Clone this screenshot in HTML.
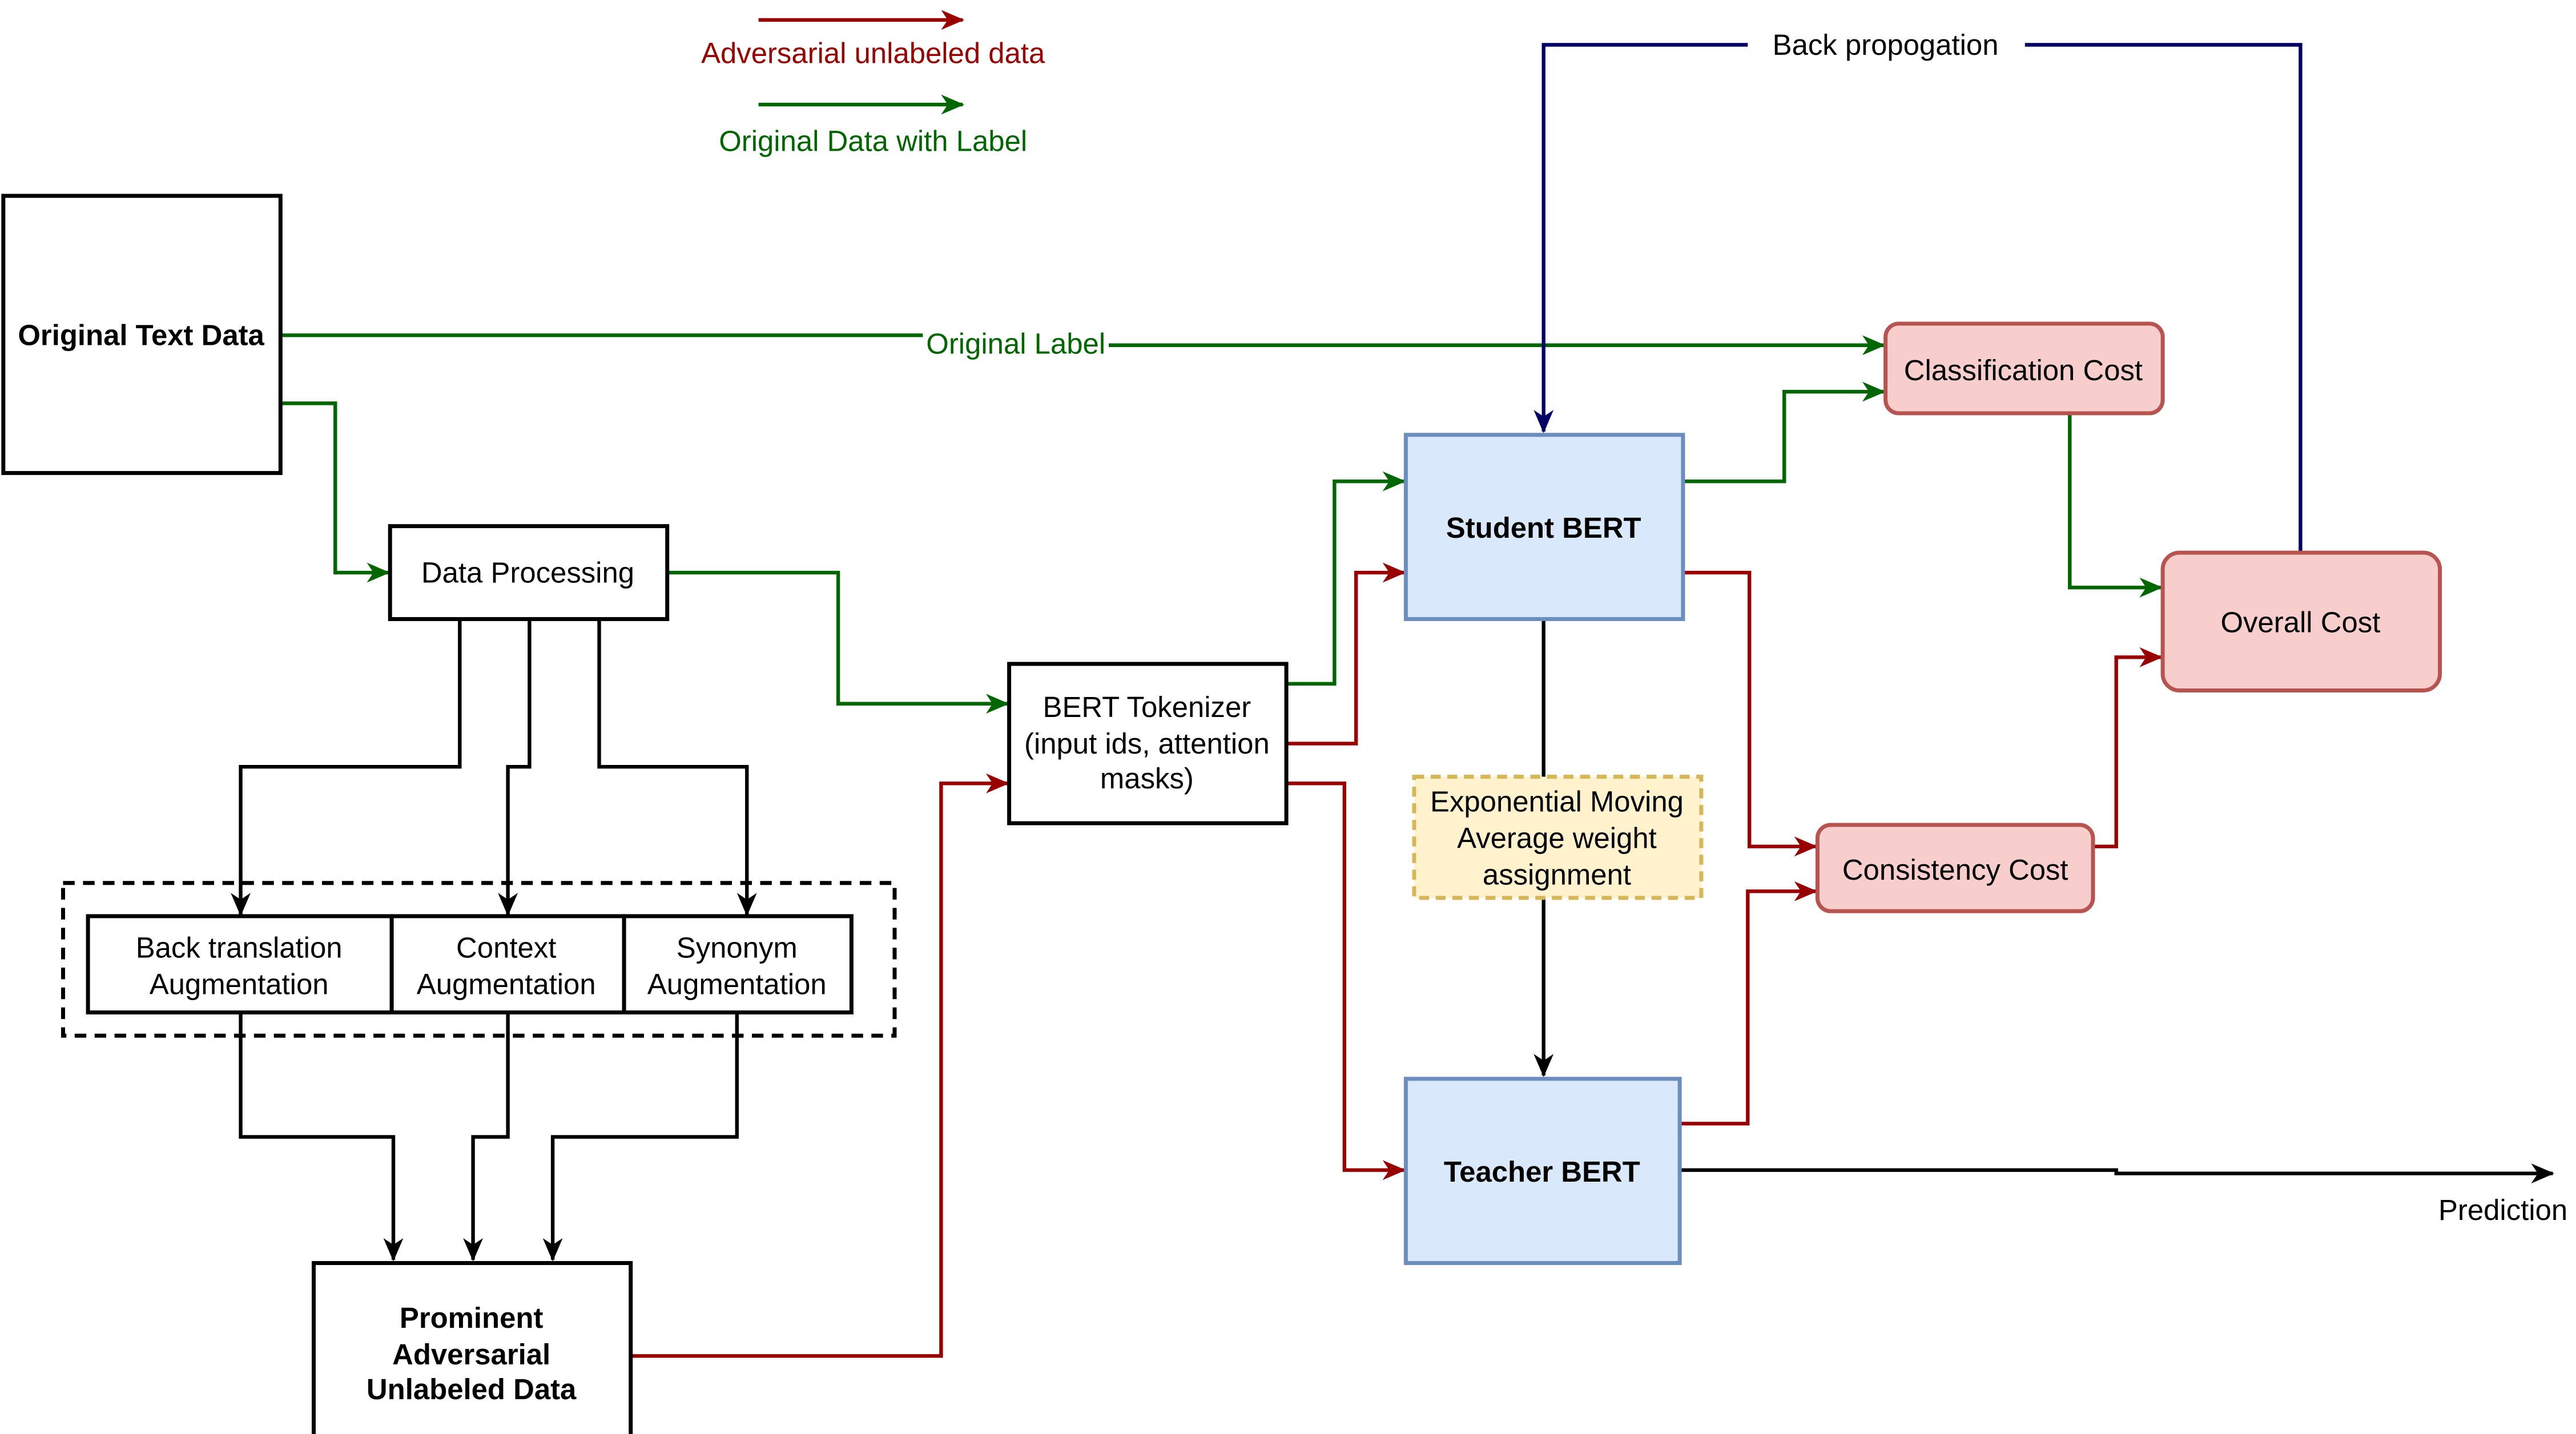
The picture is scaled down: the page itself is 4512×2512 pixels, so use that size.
<!DOCTYPE html>
<html><head><meta charset="utf-8"><style>
html,body{margin:0;padding:0;background:#fff;}
svg{display:block;}
text{font-family:"Liberation Sans",Arial,sans-serif;font-size:17.5px;}
</style></head><body>
<svg width="4512" height="2512" viewBox="0 0 1552 864" preserveAspectRatio="none" xmlns="http://www.w3.org/2000/svg">
<defs>
<marker id="ag" markerWidth="14" markerHeight="14" refX="13" refY="7" orient="auto" markerUnits="userSpaceOnUse"><path d="M0,1 L14,7 L0,13 L4,7 z" fill="#006600"/></marker>
<marker id="ar" markerWidth="14" markerHeight="14" refX="13" refY="7" orient="auto" markerUnits="userSpaceOnUse"><path d="M0,1 L14,7 L0,13 L4,7 z" fill="#990000"/></marker>
<marker id="ak" markerWidth="14" markerHeight="14" refX="13" refY="7" orient="auto" markerUnits="userSpaceOnUse"><path d="M0,1 L14,7 L0,13 L4,7 z" fill="#000"/></marker>
<marker id="ab" markerWidth="14" markerHeight="14" refX="13" refY="7" orient="auto" markerUnits="userSpaceOnUse"><path d="M0,1 L14,7 L0,13 L4,7 z" fill="#000066"/></marker>
</defs>
<g fill="none" stroke-width="2.2">
<path d="M457,12 H580" stroke="#990000" marker-end="url(#ar)"/>
<path d="M457,63 H580" stroke="#006600" marker-end="url(#ag)"/>
<path d="M668,208 H1135" stroke="#006600" marker-end="url(#ag)"/>
<path d="M169,202 H556" stroke="#006600"/>
<path d="M169,243 H202 V345 H234" stroke="#006600" marker-end="url(#ag)"/>
<path d="M402,345 H505 V424 H607" stroke="#006600" marker-end="url(#ag)"/>
<path d="M775,412 H804 V290 H846" stroke="#006600" marker-end="url(#ag)"/>
<path d="M1014,290 H1075 V236 H1135" stroke="#006600" marker-end="url(#ag)"/>
<path d="M1247,250 V354 H1302" stroke="#006600" marker-end="url(#ag)"/>
<path d="M775,448 H817 V345 H846" stroke="#990000" marker-end="url(#ar)"/>
<path d="M775,472 H810 V705 H846" stroke="#990000" marker-end="url(#ar)"/>
<path d="M380,817 H567 V472 H607" stroke="#990000" marker-end="url(#ar)"/>
<path d="M1014,345 H1054 V510 H1094" stroke="#990000" marker-end="url(#ar)"/>
<path d="M1012,677 H1053 V537 H1094" stroke="#990000" marker-end="url(#ar)"/>
<path d="M1261,510 H1275 V396 H1302" stroke="#990000" marker-end="url(#ar)"/>
<path d="M277,373 V462 H145 V551" stroke="#000" marker-end="url(#ak)"/>
<path d="M319,373 V462 H306 V551" stroke="#000" marker-end="url(#ak)"/>
<path d="M361,373 V462 H450 V551" stroke="#000" marker-end="url(#ak)"/>
<path d="M145,610 V685 H237 V759" stroke="#000" marker-end="url(#ak)"/>
<path d="M306,610 V685 H285 V759" stroke="#000" marker-end="url(#ak)"/>
<path d="M444,610 V685 H333 V759" stroke="#000" marker-end="url(#ak)"/>
<path d="M930,541 V648" stroke="#000" marker-end="url(#ak)"/>
<path d="M930,373 V468" stroke="#000"/>
<path d="M1012,705 H1275 V707 H1538" stroke="#000" marker-end="url(#ak)"/>
<path d="M1053,27 H930 V260" stroke="#000066" marker-end="url(#ab)"/>
<path d="M1386,332 V27 H1220" stroke="#000066"/>
</g>
<g stroke-width="2.4">
<rect x="2" y="118" width="167" height="167" fill="#fff" stroke="#000"/>
<rect x="235" y="317" width="167" height="56" fill="#fff" stroke="#000"/>
<rect x="38" y="532" width="501" height="92" fill="none" stroke="#000" stroke-dasharray="7,5"/>
<rect x="53" y="552" width="183" height="58" fill="#fff" stroke="#000"/>
<rect x="236" y="552" width="140" height="58" fill="#fff" stroke="#000"/>
<rect x="376" y="552" width="137" height="58" fill="#fff" stroke="#000"/>
<rect x="189" y="761" width="191" height="111" fill="#fff" stroke="#000"/>
<rect x="608" y="400" width="167" height="96" fill="#fff" stroke="#000"/>
<rect x="847" y="262" width="167" height="111" fill="#dae8fc" stroke="#6c8ebf"/>
<rect x="847" y="650" width="165" height="111" fill="#dae8fc" stroke="#6c8ebf"/>
<rect x="852" y="468" width="173" height="73" fill="#fff2cc" stroke="#d6b656" stroke-dasharray="6,4"/>
<rect x="1136" y="195" width="167" height="54" rx="8" fill="#f8cecc" stroke="#b85450"/>
<rect x="1095" y="497" width="166" height="52" rx="8" fill="#f8cecc" stroke="#b85450"/>
<rect x="1303" y="333" width="167" height="83" rx="10" fill="#f8cecc" stroke="#b85450"/>
</g>
<g text-anchor="middle">
<text x="526" y="38" fill="#990000">Adversarial unlabeled data</text>
<text x="526" y="91" fill="#006600">Original Data with Label</text>
<text x="1136" y="33" fill="#000">Back propogation</text>
<text x="612" y="213" fill="#006600">Original Label</text>
<text x="85" y="208" font-weight="bold">Original Text Data</text>
<text x="318" y="351">Data Processing</text>
<text x="144" y="577">Back translation</text><text x="144" y="599">Augmentation</text>
<text x="305" y="577">Context</text><text x="305" y="599">Augmentation</text>
<text x="444" y="577">Synonym</text><text x="444" y="599">Augmentation</text>
<text x="284" y="800" font-weight="bold">Prominent</text>
<text x="284" y="822" font-weight="bold">Adversarial</text>
<text x="284" y="843" font-weight="bold">Unlabeled Data</text>
<text x="691" y="432">BERT Tokenizer</text>
<text x="691" y="454">(input ids, attention</text>
<text x="691" y="475">masks)</text>
<text x="930" y="324" font-weight="bold">Student BERT</text>
<text x="929" y="712" font-weight="bold">Teacher BERT</text>
<text x="938" y="489">Exponential Moving</text>
<text x="938" y="511">Average weight</text>
<text x="938" y="533">assignment</text>
<text x="1219" y="229">Classification Cost</text>
<text x="1178" y="530">Consistency Cost</text>
<text x="1386" y="381">Overall Cost</text>
<text x="1508" y="735">Prediction</text>
</g>
</svg>
</body></html>
